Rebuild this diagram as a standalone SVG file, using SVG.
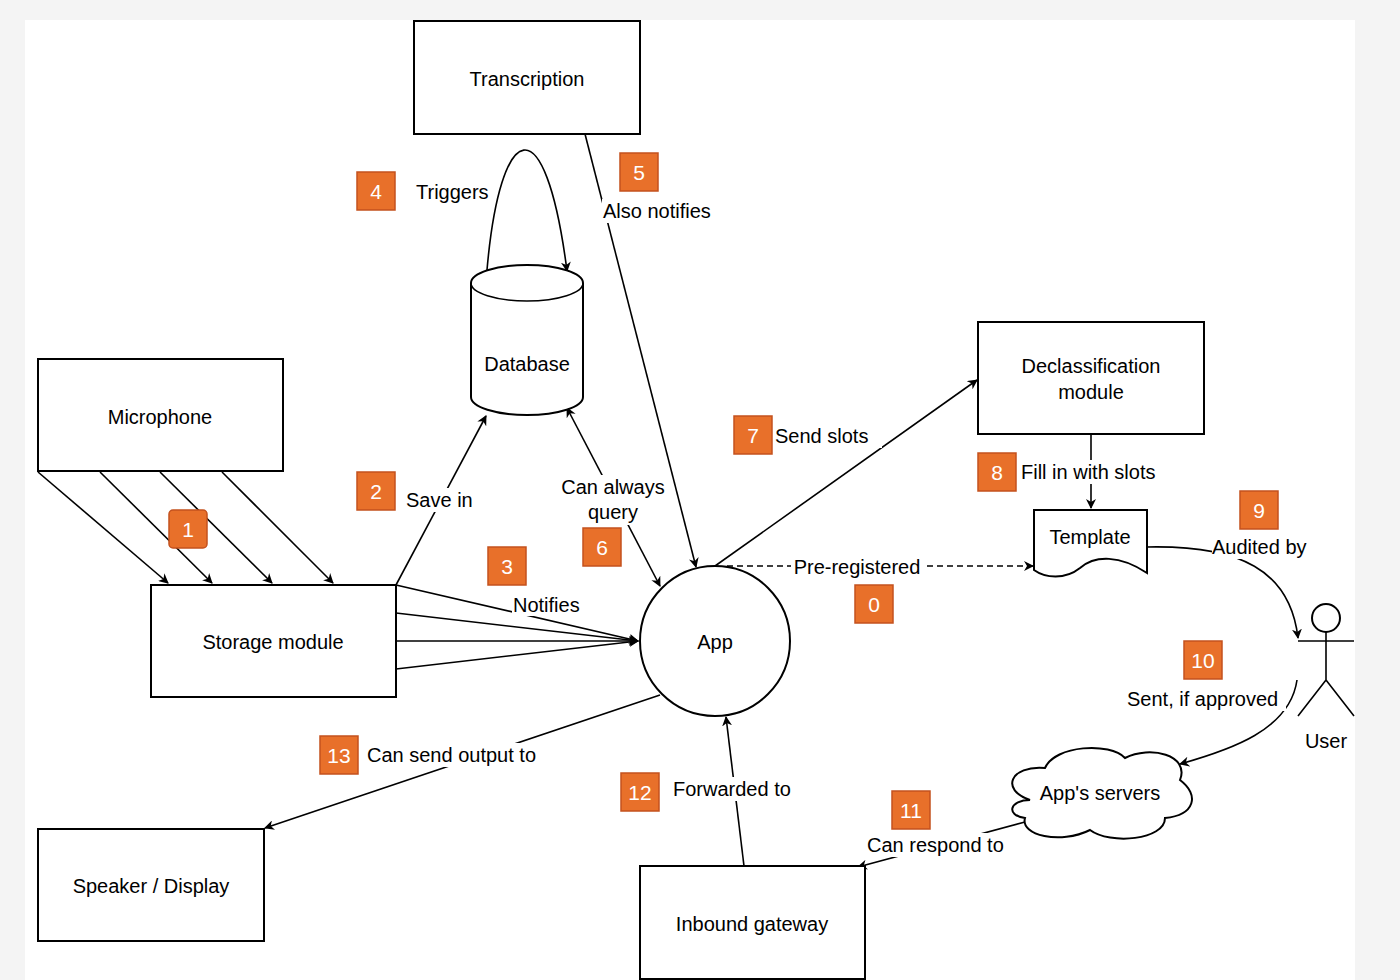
<svg xmlns="http://www.w3.org/2000/svg" width="1400" height="980" viewBox="0 0 1400 980">
<style>
text{font-family:"Liberation Sans",Arial,sans-serif;font-size:20px;fill:#000}
.n{fill:#fff;stroke:#000;stroke-width:2}
.e{fill:none;stroke:#000;stroke-width:1.6}
.b rect{fill:#e8702a;stroke:#c4511e;stroke-width:1.5}
.b text{fill:#fff;font-size:21px;text-anchor:middle}
.lb{fill:#fff}
.c{text-anchor:middle}
</style>
<defs>
<marker id="a" viewBox="0 0 10 10" refX="9" refY="5" markerWidth="10" markerHeight="10" orient="auto-start-reverse" markerUnits="userSpaceOnUse"><path d="M0,0 L10,5 L0,10 L3,5 Z" fill="#000"/></marker>
</defs>
<rect width="1400" height="980" fill="#f4f4f4"/>
<rect x="25" y="20" width="1330" height="960" fill="#fff"/>
<g id="connectors">
<line class="e" x1="38" y1="472" x2="168" y2="583" marker-end="url(#a)"/>
<line class="e" x1="100" y1="472" x2="212" y2="583" marker-end="url(#a)"/>
<line class="e" x1="160" y1="472" x2="272" y2="583" marker-end="url(#a)"/>
<line class="e" x1="222" y1="472" x2="333" y2="583" marker-end="url(#a)"/>
<line class="e" x1="396" y1="585" x2="486" y2="416" marker-end="url(#a)"/>
<path class="e" d="M487,270 C500,120 545,100 567,271" marker-end="url(#a)"/>
<line class="e" x1="585" y1="134" x2="696" y2="567" marker-end="url(#a)"/>
<line class="e" x1="660" y1="586" x2="567" y2="408" marker-start="url(#a)" marker-end="url(#a)"/>
<line class="e" x1="396" y1="585" x2="638" y2="641" marker-end="url(#a)"/>
<line class="e" x1="396" y1="613" x2="638" y2="641" marker-end="url(#a)"/>
<line class="e" x1="396" y1="641" x2="638" y2="641" marker-end="url(#a)"/>
<line class="e" x1="396" y1="669" x2="638" y2="641" marker-end="url(#a)"/>
<line class="e" x1="715" y1="566" x2="977" y2="380" marker-end="url(#a)"/>
<line class="e" x1="1091" y1="434" x2="1091" y2="508" marker-end="url(#a)"/>
<line class="e" x1="727" y1="566" x2="1033" y2="566" stroke-dasharray="6,4" marker-end="url(#a)"/>
<path class="e" d="M1147,547 C1240,545 1290,570 1298,638" marker-end="url(#a)"/>
<path class="e" d="M1297,680 C1290,730 1230,750 1180,764" marker-end="url(#a)"/>
<line class="e" x1="1025" y1="822" x2="858" y2="867" marker-end="url(#a)"/>
<line class="e" x1="744" y1="866" x2="726" y2="717" marker-end="url(#a)"/>
<line class="e" x1="660" y1="695" x2="265" y2="828" marker-end="url(#a)"/>
<g id="labels">
<rect class="lb" x="404" y="488" width="74" height="24"/><text x="406" y="507">Save in</text>
<text x="416" y="199">Triggers</text>
<rect class="lb" x="602" y="199" width="114" height="24"/><text x="603" y="218">Also notifies</text>
<rect class="lb" x="558" y="475" width="110" height="50"/><text class="c" x="613" y="494">Can always</text><text class="c" x="613" y="519">query</text>
<rect class="lb" x="512" y="594" width="72" height="22"/><text x="513" y="612">Notifies</text>
<rect class="lb" x="774" y="424" width="108" height="24"/><text x="775" y="443">Send slots</text>
<rect class="lb" x="1020" y="460" width="142" height="24"/><text x="1021" y="479">Fill in with slots</text>
<rect class="lb" x="791" y="555" width="133" height="24"/><text class="c" x="857" y="574">Pre-registered</text>
<rect class="lb" x="1212" y="535" width="98" height="24"/><text x="1212" y="554">Audited by</text>
<rect class="lb" x="1126" y="687" width="160" height="24"/><text x="1127" y="706">Sent, if approved</text>
<rect class="lb" x="866" y="833" width="144" height="24"/><text x="867" y="852">Can respond to</text>
<rect class="lb" x="671" y="777" width="126" height="24"/><text x="673" y="796">Forwarded to</text>
<rect class="lb" x="365" y="743" width="178" height="24"/><text x="367" y="762">Can send output to</text>
</g>
<g id="badges" class="b">
<rect x="169" y="510" width="38" height="38" rx="4"/><text x="188" y="537">1</text>
<rect x="357" y="472" width="38" height="38"/><text x="376" y="499">2</text>
<rect x="488" y="547" width="38" height="38"/><text x="507" y="574">3</text>
<rect x="357" y="172" width="38" height="38"/><text x="376" y="199">4</text>
<rect x="620" y="153" width="38" height="38"/><text x="639" y="180">5</text>
<rect x="583" y="528" width="38" height="38"/><text x="602" y="555">6</text>
<rect x="734" y="416" width="38" height="38"/><text x="753" y="443">7</text>
<rect x="978" y="453" width="38" height="38"/><text x="997" y="480">8</text>
<rect x="855" y="585" width="38" height="38"/><text x="874" y="612">0</text>
<rect x="1240" y="491" width="38" height="38"/><text x="1259" y="518">9</text>
<rect x="1184" y="641" width="38" height="38"/><text x="1203" y="668">10</text>
<rect x="892" y="791" width="38" height="38"/><text x="911" y="818">11</text>
<rect x="621" y="773" width="38" height="38"/><text x="640" y="800">12</text>
<rect x="320" y="736" width="38" height="38"/><text x="339" y="763">13</text>
</g>
</g>
<g id="transcription"><rect class="n" x="414" y="21" width="226" height="113"/><text class="c" x="527" y="86">Transcription</text></g>
<g id="database"><path class="n" d="M471,283 A56,18 0 0 1 583,283 L583,397 A56,18 0 0 1 471,397 Z"/><path class="e" d="M471,283 A56,18 0 0 0 583,283"/><text class="c" x="527" y="371">Database</text></g>
<g id="microphone"><rect class="n" x="38" y="359" width="245" height="112"/><text class="c" x="160" y="424">Microphone</text></g>
<g id="storage"><rect class="n" x="151" y="585" width="245" height="112"/><text class="c" x="273" y="649">Storage module</text></g>
<g id="app"><circle class="n" cx="715" cy="641" r="75"/><text class="c" x="715" y="649">App</text></g>
<g id="declass"><rect class="n" x="978" y="322" width="226" height="112"/><text class="c" x="1091" y="373">Declassification</text><text class="c" x="1091" y="399">module</text></g>
<g id="template"><path class="n" d="M1034,510 L1147,510 L1147,573 C1120,555 1095,555 1080,568 C1065,580 1045,578 1034,570 Z"/><text class="c" x="1090" y="544">Template</text></g>
<g id="user"><circle class="n" cx="1326" cy="618" r="14"/><path class="e" d="M1326,632 V680 M1298,641 H1354 M1326,680 L1298,716 M1326,680 L1354,716" stroke-width="2"/><text class="c" x="1326" y="748">User</text></g>
<g id="servers"><path class="n" d="M1030,800 C1000,790 1010,765 1045,768 C1055,745 1110,742 1125,758 C1150,745 1190,755 1180,780 C1200,795 1195,815 1165,818 C1165,840 1110,845 1090,830 C1060,845 1020,835 1025,818 C1005,815 1010,800 1030,800 Z"/><text class="c" x="1100" y="800">App's servers</text></g>
<g id="speaker"><rect class="n" x="38" y="829" width="226" height="112"/><text class="c" x="151" y="893">Speaker / Display</text></g>
<g id="gateway"><rect class="n" x="640" y="866" width="225" height="113"/><text class="c" x="752" y="931">Inbound gateway</text></g>
</svg>
